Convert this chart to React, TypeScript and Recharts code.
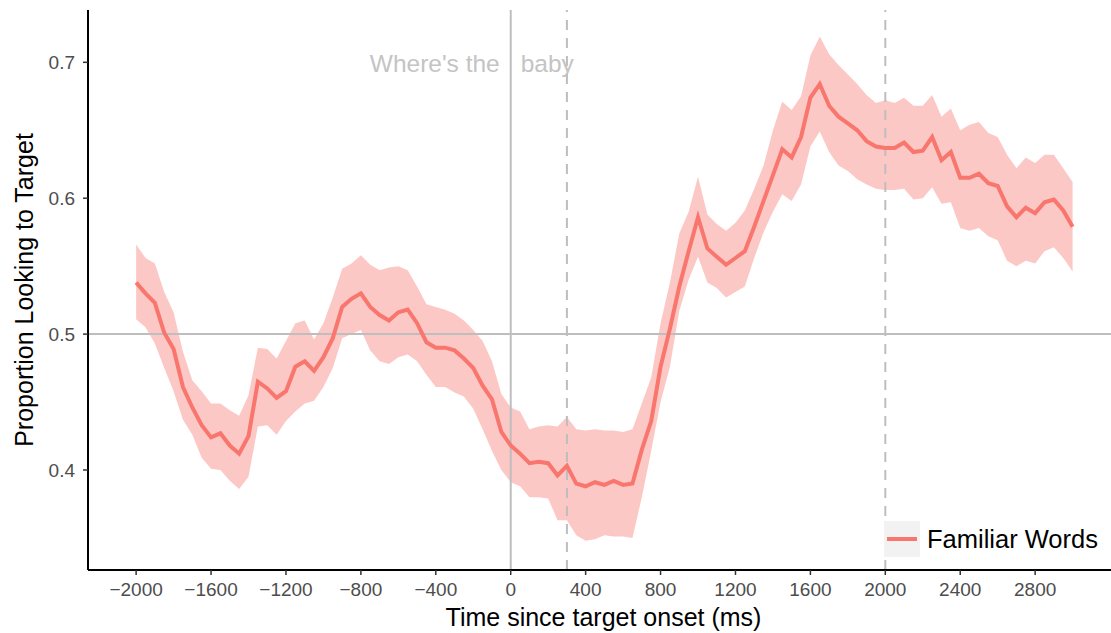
import { ComposedChart, Area, Line, XAxis, YAxis, ReferenceLine, Legend, Label } from "recharts";

const times = [
  -2000, -1950, -1900, -1850, -1800, -1750, -1700, -1650, -1600, -1550,
  -1500, -1450, -1400, -1350, -1300, -1250, -1200, -1150, -1100, -1050,
  -1000, -950, -900, -850, -800, -750, -700, -650, -600, -550,
  -500, -450, -400, -350, -300, -250, -200, -150, -100, -50,
  0, 50, 100, 150, 200, 250, 300, 350, 400, 450,
  500, 550, 600, 650, 700, 750, 800, 850, 900, 950,
  1000, 1050, 1100, 1150, 1200, 1250, 1300, 1350, 1400, 1450,
  1500, 1550, 1600, 1650, 1700, 1750, 1800, 1850, 1900, 1950,
  2000, 2050, 2100, 2150, 2200, 2250, 2300, 2350, 2400, 2450,
  2500, 2550, 2600, 2650, 2700, 2750, 2800, 2850, 2900, 2950,
  3000,
];

const familiarMean = [
  0.538, 0.530, 0.523, 0.501, 0.489, 0.461, 0.446, 0.433, 0.424, 0.427,
  0.418, 0.412, 0.425, 0.465, 0.460, 0.453, 0.458, 0.476, 0.480, 0.473,
  0.483, 0.497, 0.520, 0.526, 0.530, 0.520, 0.514, 0.510, 0.516, 0.518,
  0.508, 0.494, 0.490, 0.490, 0.488, 0.482, 0.475, 0.462, 0.452, 0.428,
  0.418, 0.412, 0.405, 0.406, 0.405, 0.396, 0.403, 0.390, 0.388, 0.391,
  0.389, 0.392, 0.389, 0.390, 0.415, 0.436, 0.476, 0.504, 0.535, 0.561,
  0.586, 0.563, 0.557, 0.551, 0.556, 0.561, 0.579, 0.598, 0.617, 0.636,
  0.630, 0.645, 0.674, 0.684, 0.668, 0.660, 0.655, 0.650, 0.642, 0.638,
  0.637, 0.637, 0.641, 0.634, 0.635, 0.645, 0.628, 0.634, 0.615, 0.615,
  0.618, 0.611, 0.609, 0.594, 0.586, 0.593, 0.589, 0.597, 0.599, 0.591,
  0.579,
];

const familiarUpper = [
  0.566, 0.556, 0.552, 0.531, 0.516, 0.487, 0.466, 0.458, 0.449, 0.449,
  0.444, 0.440, 0.455, 0.490, 0.489, 0.482, 0.495, 0.508, 0.510, 0.496,
  0.508, 0.527, 0.548, 0.552, 0.558, 0.551, 0.547, 0.549, 0.550, 0.547,
  0.535, 0.522, 0.520, 0.518, 0.515, 0.510, 0.503, 0.495, 0.480, 0.456,
  0.446, 0.443, 0.430, 0.432, 0.433, 0.432, 0.439, 0.430, 0.429, 0.430,
  0.429, 0.429, 0.428, 0.430, 0.449, 0.468, 0.508, 0.538, 0.574, 0.590,
  0.616, 0.588, 0.581, 0.576, 0.582, 0.591, 0.607, 0.624, 0.650, 0.671,
  0.665, 0.675, 0.705, 0.719, 0.706, 0.698, 0.691, 0.684, 0.676, 0.670,
  0.672, 0.670, 0.674, 0.668, 0.668, 0.676, 0.660, 0.666, 0.650, 0.654,
  0.656, 0.648, 0.645, 0.632, 0.622, 0.630, 0.626, 0.632, 0.632, 0.622,
  0.612,
];

const familiarLower = [
  0.511, 0.505, 0.493, 0.475, 0.458, 0.437, 0.426, 0.409, 0.401, 0.400,
  0.392, 0.386, 0.395, 0.432, 0.433, 0.426, 0.436, 0.443, 0.449, 0.451,
  0.461, 0.475, 0.497, 0.500, 0.503, 0.488, 0.480, 0.478, 0.483, 0.485,
  0.480, 0.470, 0.461, 0.461, 0.457, 0.454, 0.445, 0.430, 0.414, 0.400,
  0.391, 0.388, 0.380, 0.380, 0.379, 0.363, 0.363, 0.352, 0.348, 0.349,
  0.352, 0.351, 0.351, 0.350, 0.380, 0.414, 0.450, 0.476, 0.517, 0.540,
  0.557, 0.538, 0.534, 0.527, 0.531, 0.535, 0.556, 0.575, 0.590, 0.603,
  0.598, 0.610, 0.638, 0.649, 0.634, 0.624, 0.620, 0.614, 0.610, 0.607,
  0.606, 0.606, 0.607, 0.599, 0.600, 0.608, 0.596, 0.597, 0.578, 0.576,
  0.578, 0.572, 0.569, 0.554, 0.550, 0.554, 0.552, 0.561, 0.564, 0.556,
  0.546,
];

const xTicks = [-2000, -1600, -1200, -800, -400, 0, 400, 800, 1200, 1600, 2000, 2400, 2800];
const yTicks = [0.4, 0.5, 0.6, 0.7];

const RED = "#F8766D";
const GREY_LINE = "#bebebe";
const FONT = "'Liberation Sans', Arial, Helvetica, sans-serif";

const data = times.map((t, i) => ({
  time: t,
  mean: familiarMean[i],
  band: [familiarLower[i], familiarUpper[i]],
}));

const fmtX = (v: number) => (v < 0 ? "\u2212" + Math.abs(v) : String(v));

// "Where's the | baby" annotation around the onset line
const OnsetLabel = (props: any) => {
  const { viewBox } = props;
  const y = viewBox.y + 62;
  return (
    <g style={{ fontFamily: FONT, fontSize: 24.5, fill: "#c4c4c4" }}>
      <text x={viewBox.x - 11} y={y} textAnchor="end">Where's the</text>
      <text x={viewBox.x + 10} y={y} textAnchor="start">baby</text>
    </g>
  );
};

const renderLegend = (props: any) => {
  const item = (props.payload || []).find((p: any) => p.value === "Familiar Words");
  return (
    <div style={{ display: "flex", alignItems: "center", fontFamily: FONT }}>
      <div style={{ width: 36, height: 36, background: "#f2f2f2", position: "relative" }}>
        <div style={{ position: "absolute", left: 3, right: 3, top: 16, height: 4, background: RED }} />
      </div>
      <span style={{ marginLeft: 7, fontSize: 25.5, color: "#000" }}>{item ? item.value : "Familiar Words"}</span>
    </div>
  );
};

export default function App() {
  return (
    <div style={{ position: "absolute", left: 0, top: 0, width: 1111, height: 633, background: "#fff" }}>
      <ComposedChart width={1111} height={633} data={data} margin={{ top: 10, right: 0, bottom: 0, left: 0 }}>
        <XAxis
          dataKey="time"
          type="number"
          domain={[-2257, 3205]}
          allowDataOverflow
          ticks={xTicks}
          tickFormatter={fmtX}
          height={63}
          tickSize={5}
          tickMargin={8}
          axisLine={{ stroke: "#000", strokeWidth: 2 }}
          tickLine={{ stroke: "#333", strokeWidth: 1.5 }}
          tick={{ fill: "#4d4d4d", fontSize: 19, fontFamily: FONT }}
        >
          <Label
            content={(p: any) => (
              <text
                x={p.viewBox.x + p.viewBox.width / 2 + 4}
                y={p.viewBox.y + 56}
                textAnchor="middle"
                style={{ fontFamily: FONT, fontSize: 25, fill: "#000" }}
              >
                Time since target onset (ms)
              </text>
            )}
          />
        </XAxis>
        <YAxis
          type="number"
          domain={[0.3264, 0.7385]}
          allowDataOverflow
          ticks={yTicks}
          tickFormatter={(v: number) => v.toFixed(1)}
          width={88}
          tickSize={5}
          tickMargin={8}
          axisLine={{ stroke: "#000", strokeWidth: 2 }}
          tickLine={{ stroke: "#333", strokeWidth: 1.5 }}
          tick={{ fill: "#4d4d4d", fontSize: 19, fontFamily: FONT }}
        >
          <Label
            content={(p: any) => {
              const cx = p.viewBox.x + 24;
              const cy = p.viewBox.y + p.viewBox.height / 2;
              return (
                <text
                  x={cx}
                  y={cy}
                  transform={`rotate(-90 ${cx} ${cy})`}
                  textAnchor="middle"
                  dominantBaseline="central"
                  style={{ fontFamily: FONT, fontSize: 25, fill: "#000" }}
                >
                  Proportion Looking to Target
                </text>
              );
            }}
          />
        </YAxis>
        <Area
          dataKey="band"
          type="linear"
          stroke="none"
          fill={RED}
          fillOpacity={0.4}
          legendType="none"
          isAnimationActive={false}
        />
        <ReferenceLine y={0.5} stroke={GREY_LINE} strokeWidth={2} />
        <ReferenceLine x={0} stroke={GREY_LINE} strokeWidth={2} label={OnsetLabel} />
        <ReferenceLine x={300} stroke={GREY_LINE} strokeWidth={2} strokeDasharray="10 8" />
        <ReferenceLine x={2000} stroke={GREY_LINE} strokeWidth={2} strokeDasharray="10 8" />
        <Line
          dataKey="mean"
          name="Familiar Words"
          type="linear"
          stroke={RED}
          strokeWidth={4}
          dot={false}
          isAnimationActive={false}
        />
        <Legend
          layout="horizontal"
          verticalAlign="middle"
          content={renderLegend}
          wrapperStyle={{ left: 884, top: 521, width: 230, height: 36 }}
        />
      </ComposedChart>
    </div>
  );
}
